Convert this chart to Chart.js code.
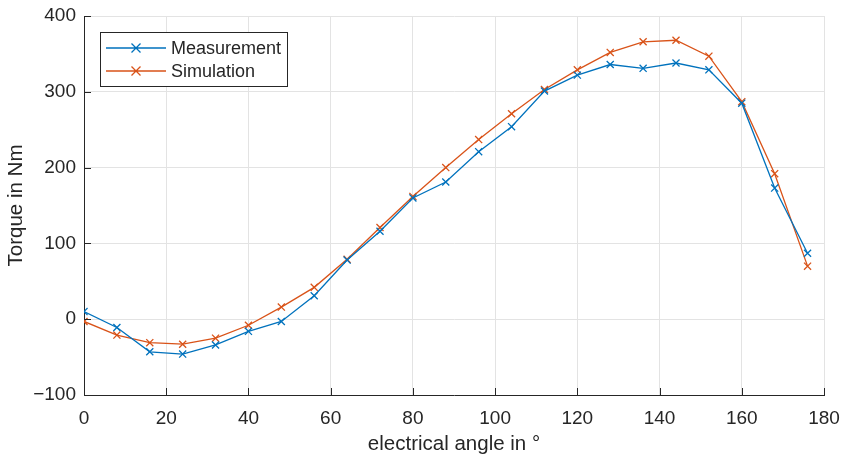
<!DOCTYPE html>
<html>
<head>
<meta charset="utf-8">
<script src="https://cdn.jsdelivr.net/npm/chart.js@4.4.1/dist/chart.umd.min.js"></script>
<style>
  html, body { margin: 0; padding: 0; background: #fff; }
  #wrap { width: 848px; height: 459px; }
</style>
</head>
<body>
<div id="wrap"><canvas id="torqueChart" width="848" height="459"></canvas></div>
<script>
// electrical angle in degrees
const angles = [0, 8, 16, 24, 32, 40, 48, 56, 64, 72, 80, 88, 96, 104, 112, 120, 128, 136, 144, 152, 160, 168, 176];
// torque values (Nm)
const measurement = [10, -11, -43, -46, -34, -16, -3, 31, 78, 116, 160, 181, 221, 254, 301, 322, 336, 331, 338, 329, 285, 173, 87];
const simulation = [-3, -21, -31, -33, -25, -8, 16, 42, 79, 121, 162, 200, 237, 271, 303, 329, 352, 366, 368, 347, 287, 192, 70];
const yTicks = [-100, 0, 100, 200, 300, 400];
const xTicks = [0, 20, 40, 60, 80, 100, 120, 140, 160, 180];

const axisColor = '#262626';
const fontFamily = "'Liberation Sans', Arial, Helvetica, sans-serif";

// MATLAB-style ticks pointing into the axes + boxed legend in the corner
const insideStuff = {
  id: 'insideStuff',
  afterDraw(chart) {
    const ctx = chart.ctx;
    const xs = chart.scales.x, ys = chart.scales.y;
    const area = chart.chartArea;
    ctx.save();
    ctx.strokeStyle = axisColor;
    ctx.lineWidth = 1;
    ctx.beginPath();
    xTicks.forEach(v => {
      const px = Math.round(xs.getPixelForValue(v)) + 0.5;
      ctx.moveTo(px, area.bottom);
      ctx.lineTo(px, area.bottom - 7);
    });
    yTicks.forEach(v => {
      const py = Math.round(ys.getPixelForValue(v)) + 0.5;
      ctx.moveTo(area.left, py);
      ctx.lineTo(area.left + 7, py);
    });
    ctx.stroke();

    // legend
    const lx = 100, ly = 32, lw = 187, lh = 54;
    ctx.fillStyle = '#fff';
    ctx.fillRect(lx, ly, lw, lh);
    ctx.strokeStyle = axisColor;
    ctx.strokeRect(lx + 0.5, ly + 0.5, lw, lh);
    ctx.font = '18px ' + fontFamily;
    ctx.textBaseline = 'middle';
    chart.data.datasets.forEach((ds, i) => {
      const cy = ly + 16 + i * 23;
      ctx.strokeStyle = ds.borderColor;
      ctx.lineWidth = 1.3;
      ctx.beginPath();
      ctx.moveTo(lx + 6, cy);
      ctx.lineTo(lx + 66, cy);
      const mx = lx + 36, r = 4.5;
      ctx.moveTo(mx - r, cy - r); ctx.lineTo(mx + r, cy + r);
      ctx.moveTo(mx - r, cy + r); ctx.lineTo(mx + r, cy - r);
      ctx.stroke();
      ctx.fillStyle = axisColor;
      ctx.fillText(ds.label, lx + 71, cy + 1);
    });
    ctx.restore();
  }
};

const toPoints = arr => arr.map((v, i) => ({ x: angles[i], y: v }));

new Chart(document.getElementById('torqueChart'), {
  type: 'line',
  data: {
    datasets: [
      {
        label: 'Measurement',
        data: toPoints(measurement),
        borderColor: '#0072BD',
        backgroundColor: '#0072BD',
        borderWidth: 1.3,
        pointStyle: 'crossRot',
        pointRadius: 5,
        pointBorderWidth: 1.3,
        tension: 0
      },
      {
        label: 'Simulation',
        data: toPoints(simulation),
        borderColor: '#D95319',
        backgroundColor: '#D95319',
        borderWidth: 1.3,
        pointStyle: 'crossRot',
        pointRadius: 5,
        pointBorderWidth: 1.3,
        tension: 0
      }
    ]
  },
  options: {
    responsive: false,
    animation: false,
    layout: { padding: { top: 16, right: 24, left: 0, bottom: 0 } },
    plugins: {
      legend: { display: false },
      tooltip: { enabled: false }
    },
    scales: {
      x: {
        type: 'linear',
        min: 0,
        max: 180,
        afterBuildTicks: s => { s.ticks = xTicks.map(v => ({ value: v })); },
        afterFit: s => { s.height = 64; s.paddingLeft = 0; s.paddingRight = 0; },
        grid: { color: '#e3e3e3', drawTicks: false },
        border: { color: axisColor, width: 1 },
        ticks: {
          color: axisColor,
          padding: 12,
          font: { size: 19, family: fontFamily }
        },
        title: {
          display: true,
          text: 'electrical angle in °',
          color: axisColor,
          padding: { top: 0, bottom: 2 },
          font: { size: 20.5, family: fontFamily }
        }
      },
      y: {
        min: -100,
        max: 400,
        afterBuildTicks: s => { s.ticks = yTicks.map(v => ({ value: v })); },
        afterFit: s => { s.width = 84; s.paddingTop = 0; s.paddingBottom = 0; },
        grid: { color: '#e3e3e3', drawTicks: false },
        border: { color: axisColor, width: 1 },
        ticks: {
          color: axisColor,
          padding: 8,
          font: { size: 19, family: fontFamily },
          callback: v => String(v).replace('-', '\u2212')
        },
        title: {
          display: true,
          text: 'Torque in Nm',
          color: axisColor,
          padding: { top: 4, bottom: 0 },
          font: { size: 20.5, family: fontFamily }
        }
      }
    }
  },
  plugins: [insideStuff]
});
</script>
</body>
</html>
